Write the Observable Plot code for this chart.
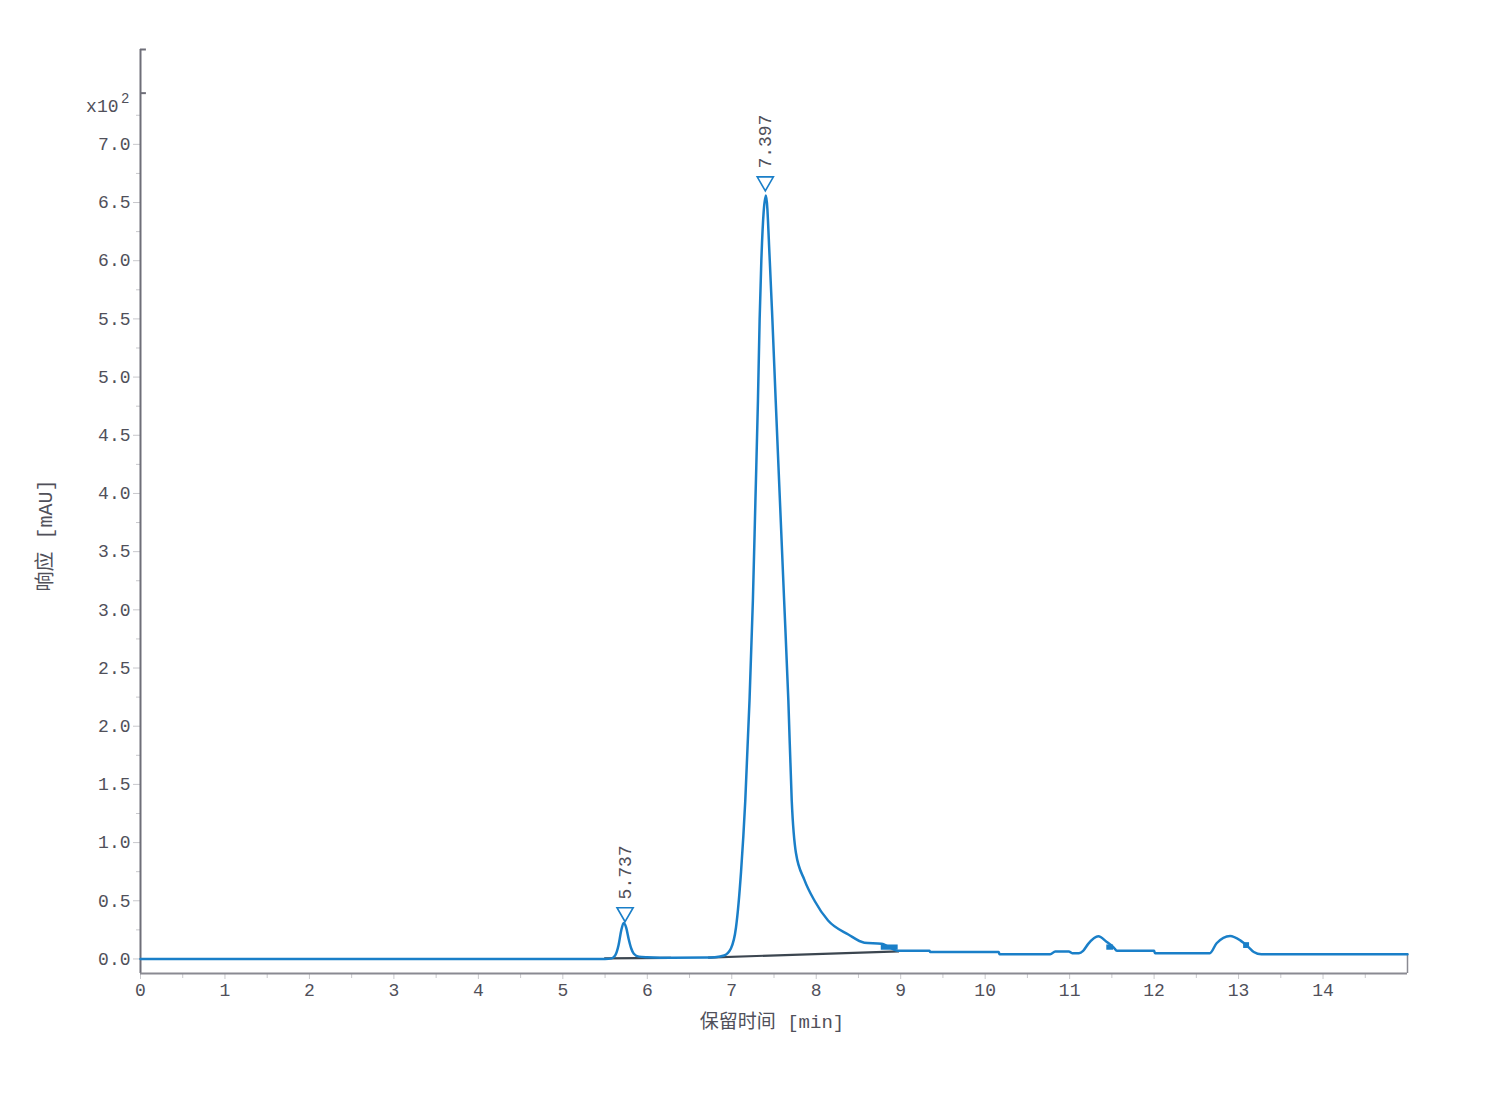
<!DOCTYPE html>
<html>
<head>
<meta charset="utf-8">
<script src="https://cdn.jsdelivr.net/npm/d3@7"></script>
<script src="https://cdn.jsdelivr.net/npm/@observablehq/plot@0.6"></script>
<style>
  html, body { margin: 0; padding: 0; background: #fff; }
  #chart svg { display: block; }
</style>
</head>
<body>
<div id="chart"></div>
<script>
// Retention time [min]
const time = [0, 5.50, 5.58, 5.62, 5.66, 5.69, 5.72, 5.75, 5.78, 5.81, 5.84, 5.90, 6.00, 6.30, 6.70,
  6.80, 6.91, 6.99, 7.05, 7.11, 7.16, 7.21, 7.25, 7.28, 7.31, 7.33, 7.35, 7.405, 7.45, 7.48, 7.52,
  7.57, 7.62, 7.67, 7.71, 7.76, 7.86, 7.98, 8.14, 8.38, 8.57, 8.77, 8.97, 9.34, 9.35, 10.16, 10.17,
  10.77, 10.83, 10.99, 11.03, 11.11, 11.16, 11.22, 11.34, 11.44, 11.52, 11.56, 12.00, 12.01, 12.66,
  12.74, 12.90, 13.02, 13.12, 13.18, 13.27, 15.00];
// Response [x10^2 mAU]
const signal = [0, 0, 0.005, 0.03, 0.12, 0.24, 0.31, 0.27, 0.17, 0.09, 0.045, 0.02, 0.015, 0.01, 0.012,
  0.015, 0.03, 0.09, 0.27, 0.75, 1.36, 2.22, 3.08, 3.94, 4.80, 5.50, 6.00, 6.56, 6.00, 5.51, 4.80,
  3.94, 3.08, 2.22, 1.36, 0.91, 0.68, 0.50, 0.33, 0.21, 0.14, 0.13, 0.07, 0.07, 0.06, 0.06, 0.04,
  0.04, 0.065, 0.065, 0.05, 0.05, 0.07, 0.13, 0.195, 0.146, 0.10, 0.07, 0.07, 0.05, 0.05,
  0.135, 0.198, 0.16, 0.10, 0.06, 0.04, 0.04];

// Labelled peaks
const peakTimes = [5.737, 7.397];
const peakMarkerValues = [0.40, 6.68];
const peakLabels = ["5.737", "7.397"];

// Integration baselines (start/end)
const baseStartT = [5.49, 6.72];
const baseStartV = [0.005, 0.012];
const baseEndT = [6.28, 8.98];
const baseEndV = [0.01, 0.065];

// Peak end blocks
const blockT1 = [8.77, 11.44, 13.06];
const blockT2 = [8.97, 11.52, 13.13];
const blockV1 = [0.075, 0.075, 0.09];
const blockV2 = [0.12, 0.12, 0.14];

// Axis ticks
const xTicks = d3.range(0, 15, 1);
const xMinorTicks = d3.range(0.5, 15, 1);
const yTicks = d3.range(0, 7.01, 0.5);
const yMinorTicks = d3.range(0.25, 7.5, 0.5);
const yTopTicks = [7.44, 7.815];

const trace = time.map((t, i) => ({t, v: signal[i]}));
const peaks = peakTimes.map((t, i) => ({t, v: peakMarkerValues[i], label: peakLabels[i]}));
const baselines = baseStartT.map((t, i) => ({x1: t, y1: baseStartV[i], x2: baseEndT[i], y2: baseEndV[i]}));
const blocks = blockT1.map((t, i) => ({x1: t, x2: blockT2[i], y1: blockV1[i], y2: blockV2[i]}));

const blue = "#1a7fc8";
const textColor = "#50505a";
const font = "'Liberation Mono', 'Noto Sans CJK SC', monospace";

const chart = Plot.plot({
  width: 1500,
  height: 1100,
  marginLeft: 140,
  marginRight: 93,
  marginTop: 49,
  marginBottom: 127,
  style: {fontFamily: font, fontSize: "18px", color: textColor, background: "#fff"},
  x: {domain: [0, 15]},
  y: {domain: [-0.125, 7.815]},
  marks: [
    // axes ticks
    Plot.axisX(xTicks, {tickSize: 6, tickPadding: 4, stroke: "#c8c8cc", fill: textColor, fontSize: 18, label: null}),
    Plot.axisX(xMinorTicks, {tickSize: 5, text: null, stroke: "#c8c8cc", label: null}),
    Plot.axisY(yTicks, {tickSize: 7, tickPadding: 3, stroke: "#c8c8cc", fill: textColor, fontSize: 18,
      tickFormat: d => d.toFixed(1), label: null}),
    Plot.axisY(yMinorTicks, {tickSize: 4, text: null, stroke: "#c8c8cc", label: null}),
    Plot.ruleY(yTopTicks, {x1: 0, x2: 0.07, stroke: "#6e6e78", strokeWidth: 2}),
    // axis lines
    Plot.ruleX([0], {stroke: "#6e6e78", strokeWidth: 2}),
    Plot.ruleY([-0.125], {stroke: "#8a8a92", strokeWidth: 2}),
    Plot.ruleX([15], {y1: -0.125, y2: 0.04, stroke: "#8a8a92", strokeWidth: 1.5}),
    // integration baselines
    Plot.link(baselines, {x1: "x1", y1: "y1", x2: "x2", y2: "y2", stroke: "#3c4650", strokeWidth: 2.2}),
    // trace
    Plot.line(trace, {x: "t", y: "v", stroke: blue, strokeWidth: 2.5, curve: "monotone-x"}),
    Plot.rect(blocks, {x1: "x1", x2: "x2", y1: "y1", y2: "y2", fill: blue}),
    // peak markers
    Plot.dot(peaks, {x: "t", y: "v", symbol: "triangle", rotate: 180, r: 6, stroke: blue, strokeWidth: 1.6, fill: "#fff"}),
    Plot.text(peaks, {x: "t", y: "v", text: "label", rotate: -90, textAnchor: "start", dy: -13,
      fill: textColor, fontSize: 18}),
    // scale factor label
    Plot.text(["x10"], {x: 0, y: 7.33, text: d => d, textAnchor: "end", dx: -22, fill: textColor, fontSize: 18}),
    Plot.text(["2"], {x: 0, y: 7.39, text: d => d, textAnchor: "end", dx: -11, fill: textColor, fontSize: 14}),
    // axis titles
    Plot.text(["响应 [mAU]"], {frameAnchor: "left", textAnchor: "middle", lineAnchor: "middle", dx: -95, dy: 24,
      rotate: -90, text: d => d, fill: textColor, fontSize: 20}),
    Plot.text(["保留时间 [min]"], {frameAnchor: "bottom", textAnchor: "middle", lineAnchor: "middle", dx: -2, dy: 48,
      text: d => d, fill: textColor, fontSize: 19})
  ]
});
document.getElementById("chart").appendChild(chart);
</script>
</body>
</html>
